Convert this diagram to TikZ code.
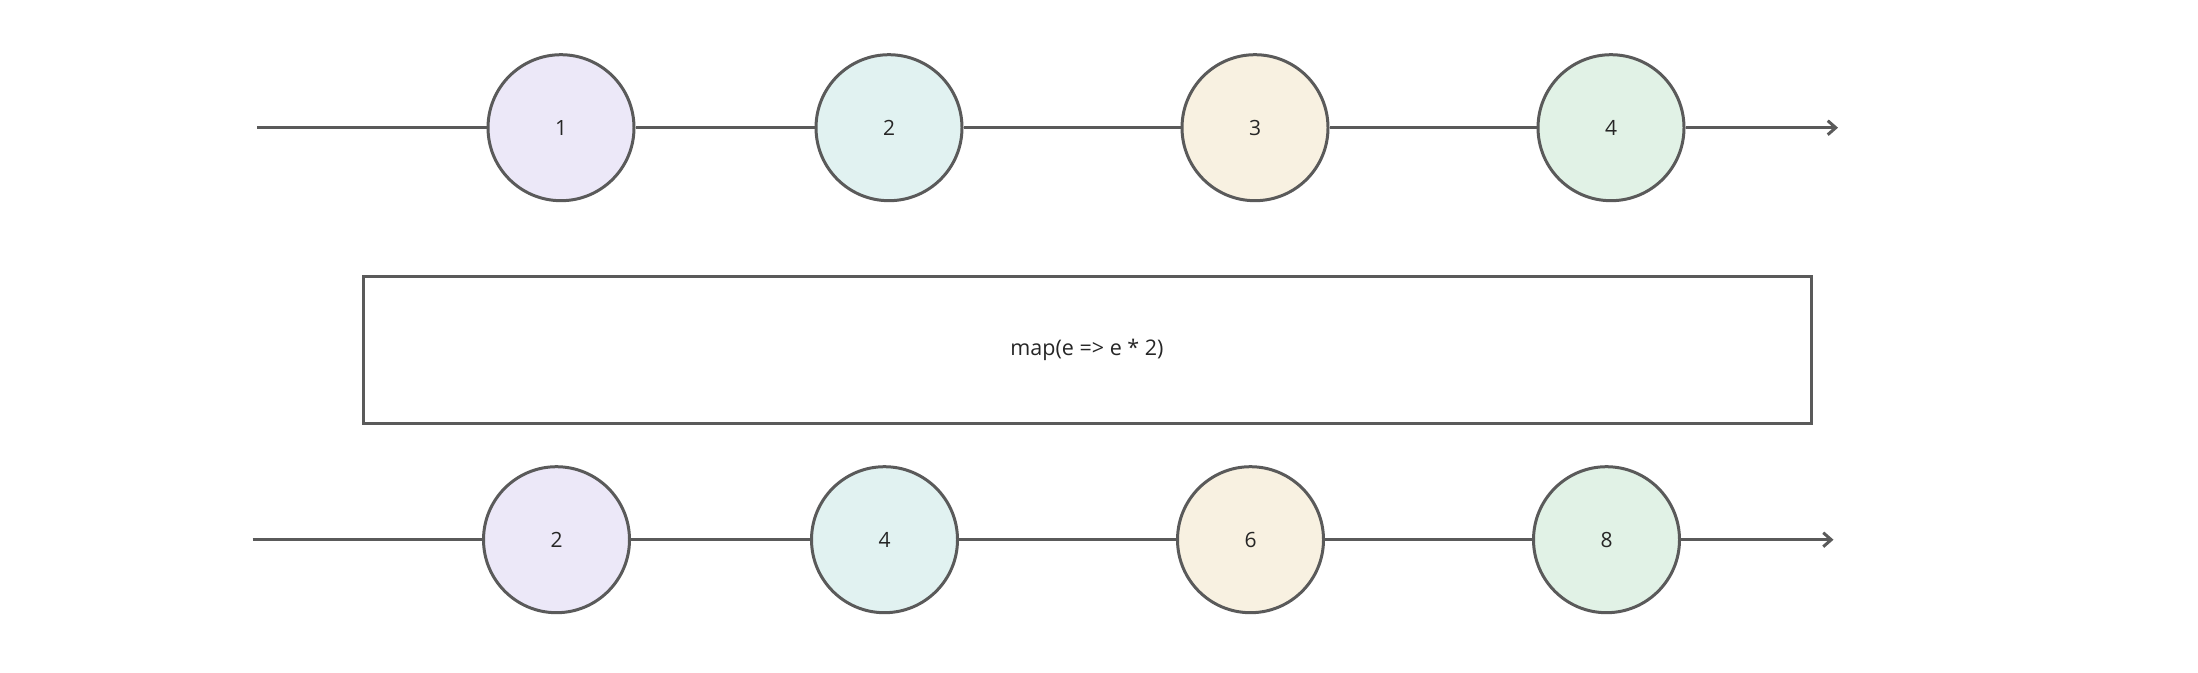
\documentclass[tikz,border=0pt]{standalone}
\usepackage{fontspec}
\setmainfont{Open Sans}
\usetikzlibrary{arrows.meta}
\definecolor{strk}{HTML}{5A5A5A}
\definecolor{cpurple}{HTML}{ECE8F8}
\definecolor{cteal}{HTML}{E1F2F1}
\definecolor{cbeige}{HTML}{F8F1E1}
\definecolor{cgreen}{HTML}{E1F2E6}
\tikzset{
  marble/.style={circle, draw=strk, line width=3pt, minimum size=146pt, inner sep=0pt, font=\fontsize{21}{25}\selectfont, text=black!85},
  tl/.style={draw=strk, line width=3pt},
  opbox/.style={draw=strk, line width=3pt, minimum width=1448pt, minimum height=147pt, inner sep=0pt, font=\fontsize{21.5}{25}\selectfont, text=black!85},
}
\begin{document}
\begin{tikzpicture}[x=1pt,y=-1pt]
\useasboundingbox (0,0) rectangle (2198,672);
% top row
\coordinate (ts) at (257.3,127.7);
\coordinate (te) at (1838,127.7);
\node[marble, fill=cpurple] (a1) at (561,127.7) {1};
\node[marble, fill=cteal] (a2) at (889,127.7) {2};
\node[marble, fill=cbeige] (a3) at (1255,127.7) {3};
\node[marble, fill=cgreen] (a4) at (1611,127.7) {4};
\draw[tl] (ts) -- (a1);
\draw[tl] (a1) -- (a2);
\draw[tl] (a2) -- (a3);
\draw[tl] (a3) -- (a4);
\draw[tl, -{Straight Barb[length=8pt,width=14pt,line width=3pt]}] (a4) -- (te);
% operator
\node[opbox] (op) at (1087,349.5) {\raisebox{-2pt}{map(e => e * 2)}};
% bottom row
\coordinate (bs) at (252.5,539.7);
\coordinate (be) at (1833.5,539.7);
\node[marble, fill=cpurple] (b1) at (556.5,539.7) {2};
\node[marble, fill=cteal] (b2) at (884.5,539.7) {4};
\node[marble, fill=cbeige] (b3) at (1250.5,539.7) {6};
\node[marble, fill=cgreen] (b4) at (1606.5,539.7) {8};
\draw[tl] (bs) -- (b1);
\draw[tl] (b1) -- (b2);
\draw[tl] (b2) -- (b3);
\draw[tl] (b3) -- (b4);
\draw[tl, -{Straight Barb[length=8pt,width=14pt,line width=3pt]}] (b4) -- (be);
\end{tikzpicture}
\end{document}
